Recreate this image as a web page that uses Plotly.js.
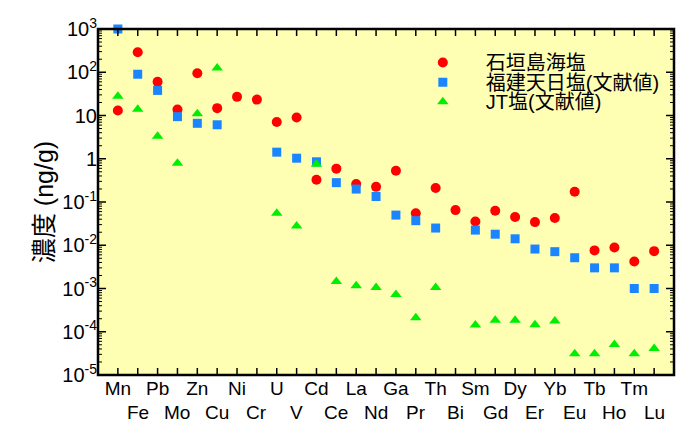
<!DOCTYPE html>
<html>
<head>
<meta charset="utf-8">
<script src="https://cdn.plot.ly/plotly-3.0.1.min.js"></script>
<style>html,body{margin:0;padding:0;background:#fff;}#chart{width:686px;height:422px;}</style>
</head>
<body>
<div id="chart"></div>
<script>
// Categories (elements)
const elements = ["Mn","Fe","Pb","Mo","Zn","Cu","Ni","Cr","U","V","Cd","Ce","La","Nd","Ga","Pr","Th","Bi","Sm","Gd","Dy","Er","Yb","Eu","Tb","Ho","Tm","Lu"];

// Series names
const seriesNames = ["石垣島海塩", "福建天日塩(文献値)", "JT塩(文献値)"];

// 石垣島海塩 (ng/g)
const ishigaki = [13, 290, 60, 13.7, 95, 14.8, 27, 23.3, 7.1, 8.95, 0.326, 0.59, 0.26, 0.224, 0.53, 0.055, 0.21, 0.065, 0.0355, 0.063, 0.0448, 0.0343, 0.0425, 0.172, 0.0076, 0.0089, 0.0042, 0.0073];

// 福建天日塩 (ng/g)
const fujian = [1000, 90, 38, 9.4, 6.6, 6.1, null, null, 1.42, 1.03, 0.85, 0.28, 0.199, 0.134, 0.0498, 0.037, 0.025, null, 0.0224, 0.018, 0.0141, 0.00817, 0.0071, 0.00514, 0.003, 0.003, 0.001, 0.001];

// JT塩 (ng/g)
const jt = [28, 14, 3.3, 0.79, 11, 126, null, null, 0.055, 0.028, 0.75, 0.00146, 0.00116, 0.00106, 0.00073, 0.00021, 0.00106, null, 0.000143, 0.000184, 0.000184, 0.000146, 0.000177, 0.000031, 0.000031, 0.000051, 0.000031, 0.000041];

// Y tick labels
const yTickVals = [1e3, 1e2, 1e1, 1, 1e-1, 1e-2, 1e-3, 1e-4, 1e-5];
const yTickText = ["10<sup>3</sup>", "10<sup>2</sup>", "10", "1", "10<sup>-1</sup>", "10<sup>-2</sup>", "10<sup>-3</sup>", "10<sup>-4</sup>", "10<sup>-5</sup>"];

const latinCJK = "Liberation Sans, Arial, Noto Sans CJK JP, sans-serif";

// minor ticks: 2..9 within each decade
const minorVals = [];
yTickVals.slice(1).forEach(d => { for (let k = 2; k <= 9; k++) minorVals.push(d * k); });

const traces = [
  {x: elements, y: ishigaki, name: seriesNames[0], type: "scatter", mode: "markers",
   marker: {symbol: "circle", size: 10, color: "#ff0000"}, legend: "legend", cliponaxis: false},
  {x: elements, y: fujian, name: seriesNames[1], type: "scatter", mode: "markers",
   marker: {symbol: "square", size: 9, color: "#1a85ff"}, legend: "legend2", cliponaxis: false},
  {x: elements, y: jt, name: seriesNames[2], type: "scatter", mode: "markers",
   marker: {symbol: "triangle-up", size: 10, color: "#00ee00"}, legend: "legend3", cliponaxis: false}
];

// second row of category labels (odd positions)
const annotations = elements.map((e, i) => ({e, i})).filter(o => o.i % 2 === 1).map(o => ({
  x: o.e, xref: "x", y: 0, yref: "paper", yanchor: "middle", xanchor: "center",
  yshift: -37, showarrow: false, text: o.e,
  font: {family: latinCJK, size: 19, color: "#000"}
}));

// frame and tick marks (axis decoration)
const shapes = [];
shapes.push({type: "rect", xref: "paper", yref: "paper", x0: 0, x1: 1, y0: 0, y1: 1,
  line: {color: "#000", width: 2.5}, fillcolor: "rgba(0,0,0,0)", layer: "above"});
elements.forEach((e, i) => {
  shapes.push({type: "line", xref: "x", x0: i, x1: i, yref: "paper", ysizemode: "pixel", yanchor: 0, y0: 0, y1: 7,
    line: {color: "#000", width: 1.5}, layer: "above"});
  shapes.push({type: "line", xref: "x", x0: i, x1: i, yref: "paper", ysizemode: "pixel", yanchor: 1, y0: 0, y1: -7,
    line: {color: "#000", width: 1.5}, layer: "above"});
});
function yTick(v, len, w) {
  shapes.push({type: "line", yref: "y", y0: v, y1: v, xref: "paper", xsizemode: "pixel", xanchor: 0, x0: 0, x1: len,
    line: {color: "#000", width: w}, layer: "above"});
  shapes.push({type: "line", yref: "y", y0: v, y1: v, xref: "paper", xsizemode: "pixel", xanchor: 1, x0: 0, x1: -len,
    line: {color: "#000", width: w}, layer: "above"});
}
yTickVals.forEach(v => yTick(v, 8, 1.5));
minorVals.forEach(v => yTick(v, 4, 1));

const legendCommon = {
  xref: "paper", yref: "paper", xanchor: "left", yanchor: "middle",
  bgcolor: "rgba(0,0,0,0)", borderwidth: 0, itemsizing: "trace", itemwidth: 76,
  font: {family: latinCJK, size: 20, color: "#000"}
};

const layout = {
  width: 686, height: 422,
  margin: {l: 98, r: 12, t: 29, b: 47, pad: 0},
  paper_bgcolor: "#ffffff",
  plot_bgcolor: "#ffffb4",
  showlegend: true,
  font: {family: latinCJK, color: "#000"},
  annotations: annotations,
  shapes: shapes,
  xaxis: {
    type: "category",
    categoryorder: "array", categoryarray: elements,
    range: [-1, 28],
    tickmode: "array",
    tickvals: elements,
    ticktext: elements.map((e, i) => i % 2 === 0 ? e : ""),
    ticks: "", showline: false,
    showgrid: false, zeroline: false,
    tickfont: {family: latinCJK, size: 19, color: "#000"}
  },
  yaxis: {
    type: "log",
    range: [-5, 3],
    tickmode: "array",
    tickvals: yTickVals,
    ticktext: yTickText,
    ticks: "", showline: false,
    showgrid: false, zeroline: false,
    tickfont: {family: latinCJK, size: 20, color: "#000"},
    title: {text: "濃度 (ng/g)", font: {family: latinCJK, size: 25, color: "#000"}, standoff: 1}
  },
  legend: Object.assign({}, legendCommon, {x: 0.524, y: 0.903}),
  legend2: Object.assign({}, legendCommon, {x: 0.524, y: 0.846}),
  legend3: Object.assign({}, legendCommon, {x: 0.524, y: 0.79})
};

Plotly.newPlot("chart", traces, layout, {displayModeBar: false, staticPlot: true});
</script>
</body>
</html>
